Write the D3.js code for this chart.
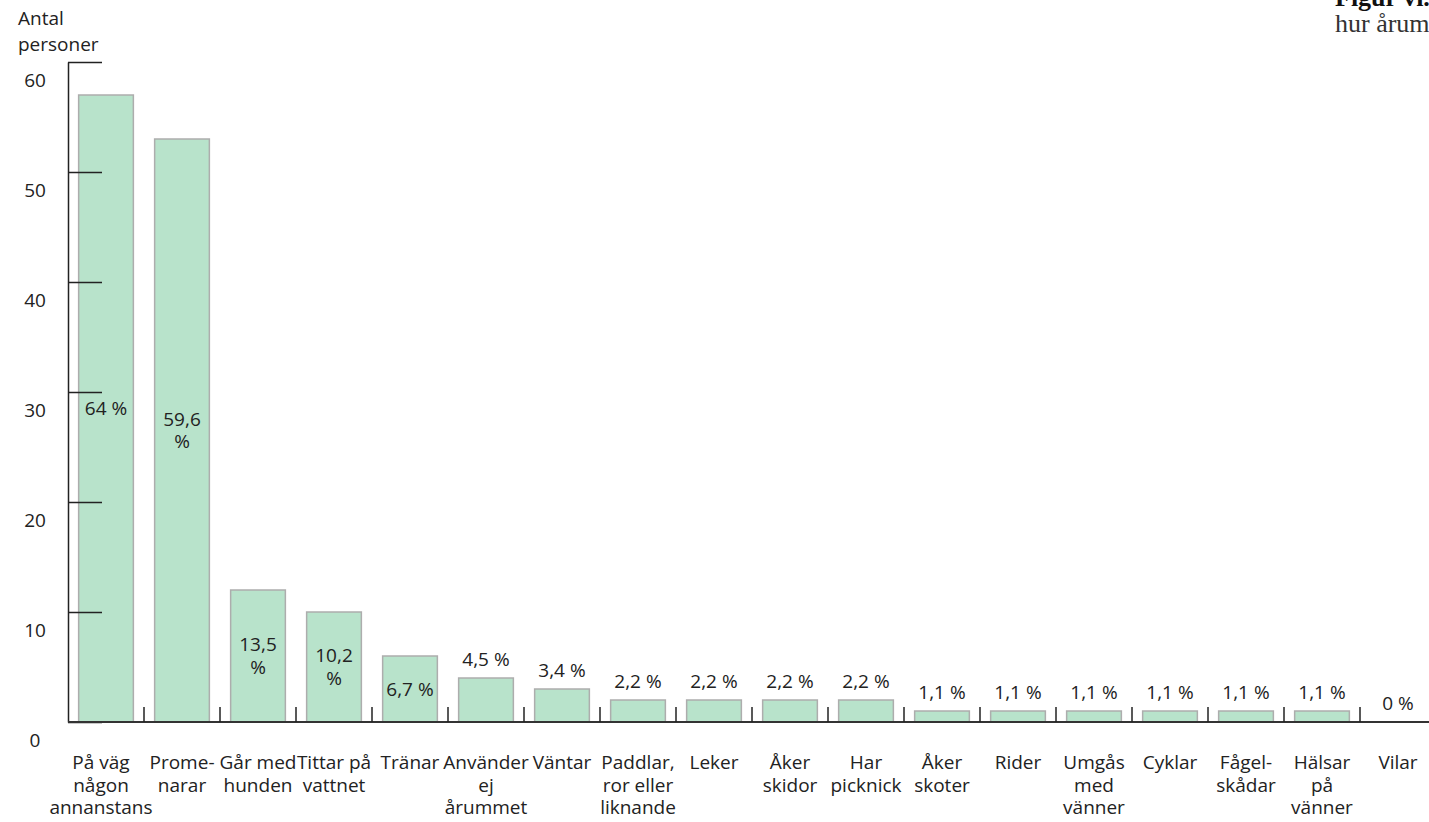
<!DOCTYPE html>
<html>
<head>
<meta charset="utf-8">
<script src="https://cdn.jsdelivr.net/npm/d3@7"></script>
<style>
  html, body { margin: 0; padding: 0; background: #fff; overflow: hidden; }
  svg { display: block; }
  text { font-family: "Open Sans", "Noto Sans", sans-serif; fill: #222; }
</style>
</head>
<body>
<svg id="chart" width="1429" height="822"></svg>
<script>
// ---- data ----
const categories = [
  "På väg\nnågon\nannanstans", "Prome-\nnarar", "Går med\nhunden", "Tittar på\nvattnet",
  "Tränar", "Använder\nej\nårummet", "Väntar", "Paddlar,\nror eller\nliknande",
  "Leker", "Åker\nskidor", "Har\npicknick", "Åker\nskoter", "Rider",
  "Umgås\nmed\nvänner", "Cyklar", "Fågel-\nskådar", "Hälsar\npå\nvänner", "Vilar"
];
const values = [57, 53, 12, 10, 6, 4, 3, 2, 2, 2, 2, 1, 1, 1, 1, 1, 1, 0];
const percentLabels = [
  "64 %", "59,6 %", "13,5 %", "10,2 %", "6,7 %", "4,5 %", "3,4 %", "2,2 %",
  "2,2 %", "2,2 %", "2,2 %", "1,1 %", "1,1 %", "1,1 %", "1,1 %", "1,1 %", "1,1 %", "0 %"
];
const yTicks = [0, 10, 20, 30, 40, 50, 60];
const yTitle = ["Antal", "personer"];
const figTitle = ["Figur vi.", "hur årummet"];

// ---- layout ----
const svg = d3.select("#chart");
const left = 68, baseY = 722, topY = 62;
const step = 76;
const fs = 19;

const x = d3.scaleBand()
  .domain(categories)
  .range([left, left + step * categories.length])
  .paddingInner(0.28)
  .paddingOuter(0.14);

const y = d3.scaleLinear().domain([0, 60]).range([baseY, topY]);

// figure title (runs off the right edge, as in the source)
svg.append("text")
  .attr("x", 1335).attr("y", 6)
  .style("font-family", "'Liberation Serif', 'DejaVu Serif', serif")
  .style("font-weight", "bold").style("font-size", "26px").style("fill", "#111")
  .text(figTitle[0]);
svg.append("text")
  .attr("x", 1335).attr("y", 32)
  .style("font-family", "'Liberation Serif', 'DejaVu Serif', serif")
  .style("font-size", "26px").style("fill", "#333")
  .text(figTitle[1]);

// y title
svg.append("text")
  .attr("x", 18).attr("y", 25)
  .style("font-size", fs + "px")
  .selectAll("tspan").data(yTitle).join("tspan")
  .attr("x", 18).attr("dy", (d, i) => i ? 26 : 0)
  .text(d => d);

// bars
svg.append("g").selectAll("rect").data(values).join("rect")
  .attr("x", (d, i) => x(categories[i]))
  .attr("y", d => y(d))
  .attr("width", x.bandwidth())
  .attr("height", d => baseY - y(d))
  .attr("fill", "#b8e3cb")
  .attr("stroke", "#adadad")
  .attr("stroke-width", 1.5);

// y axis
const yAxis = d3.axisLeft(y)
  .tickValues(yTicks)
  .tickSizeInner(-34)
  .tickSizeOuter(0)
  .tickPadding(0)
  .tickFormat(d3.format("d"));
const gy = svg.append("g").attr("transform", `translate(${left},0)`).call(yAxis);
gy.select(".domain").attr("stroke", "#222").attr("stroke-width", 1.5);
gy.selectAll(".tick line").attr("stroke", "#222").attr("stroke-width", 1.3);
gy.selectAll(".tick text")
  .attr("x", -33).attr("dy", "1.27em")
  .attr("text-anchor", "middle")
  .style("font-size", fs + "px")
  .style("font-family", "'Open Sans', sans-serif")
  .attr("fill", "#222");

// x baseline
svg.append("line")
  .attr("x1", left).attr("x2", 1429)
  .attr("y1", baseY).attr("y2", baseY)
  .attr("stroke", "#333").attr("stroke-width", 2);

// category boundary ticks
const bounds = categories.slice(1).map(c => x(c) - x.step() * x.paddingInner() / 2);
svg.append("g").selectAll("line").data(bounds).join("line")
  .attr("x1", d => d).attr("x2", d => d)
  .attr("y1", baseY - 15).attr("y2", baseY)
  .attr("stroke", "#222").attr("stroke-width", 1.5);

// category labels
const catG = svg.append("g");
categories.forEach((c, idx) => {
  const cx = x(c) + x.bandwidth() / 2 - (idx === 0 ? 5 : 0);
  const t = catG.append("text")
    .attr("x", cx).attr("y", 769)
    .attr("text-anchor", "middle")
    .style("font-size", fs + "px");
  c.split("\n").forEach((line, i) => {
    t.append("tspan").attr("x", cx).attr("dy", i ? 22.5 : 0).text(line);
  });
});

// value labels
const valG = svg.append("g");
values.forEach((v, i) => {
  const c = categories[i];
  const cx = x(c) + x.bandwidth() / 2;
  const t = valG.append("text")
    .attr("text-anchor", "middle")
    .style("font-size", fs + "px")
    .attr("x", cx);
  t.text(percentLabels[i]);
  const w = t.node().getComputedTextLength();
  const barH = baseY - y(v);
  let lines = [percentLabels[i]];
  if (w > x.bandwidth() - 6) lines = percentLabels[i].split(" ");
  const lh = 22.5;
  const blockH = lines.length * lh;
  t.text(null);
  let firstCenter;
  if (barH > blockH + 30) {
    const mid = (y(v) + baseY) / 2;
    firstCenter = mid - (lines.length - 1) * lh / 2;
  } else {
    lines = [percentLabels[i]];
    firstCenter = y(v) - 19;
  }
  t.attr("y", firstCenter);
  lines.forEach((ln, k) => {
    t.append("tspan").attr("x", cx).attr("dy", k ? lh : "0.35em").text(ln);
  });
});
</script>
</body>
</html>
